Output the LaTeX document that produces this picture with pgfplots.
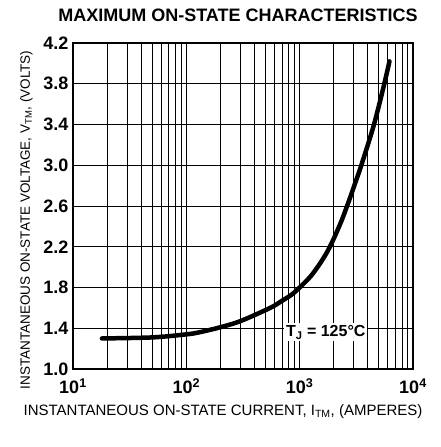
\documentclass[border=0pt]{standalone}
\usepackage{pgfplots}
\pgfplotsset{compat=1.18}
\usepackage{fontspec}
\setmainfont{Liberation Sans}
\begin{document}
\begin{tikzpicture}[x=1pt,y=1pt]
\path[use as bounding box] (-73,-78) rectangle (367,369);
\begin{axis}[
  scale only axis,
  width=340pt, height=326pt,
  xmode=log,
  xmin=10, xmax=10000,
  ymin=1.0, ymax=4.2,
  xtick={10,100,1000,10000},
  xticklabels={10\textsuperscript{1},10\textsuperscript{2},10\textsuperscript{3},10\textsuperscript{4}},
  ytick={1.0,1.4,1.8,2.2,2.6,3.0,3.4,3.8,4.2},
  yticklabels={1.0,1.4,1.8,2.2,2.6,3.0,3.4,3.8,4.2},
  minor xtick={20,30,40,50,60,70,80,90,200,300,400,500,600,700,800,900,2000,3000,4000,5000,6000,7000,8000,9000},
  major tick length=0pt, minor tick length=0pt,
  xmajorgrids, xminorgrids, ymajorgrids,
  grid style={black, line width=1pt},
  minor grid style={black, line width=1pt},
  axis line style={black, line width=1.6pt},
  tick label style={font=\fontsize{18}{20}\selectfont\bfseries},
  xticklabel style={yshift=-6pt},
  yticklabel style={xshift=-1pt},
  title={\fontsize{18}{20}\selectfont\bfseries MAXIMUM ON-STATE CHARACTERISTICS},
  title style={yshift=12pt, xshift=-5pt},
  xlabel={\fontsize{15}{17}\selectfont INSTANTANEOUS ON-STATE CURRENT, I\textsubscript{TM}, (AMPERES)},
  ylabel={\fontsize{13.5}{15}\selectfont INSTANTANEOUS ON-STATE VOLTAGE, V\textsubscript{TM}, (VOLTS)},
  xlabel style={yshift=-4pt, xshift=-20pt},
  ylabel style={yshift=4pt, xshift=-14pt},
]
\addplot[black, line width=4.5pt, smooth, line cap=round] coordinates {
(18,1.30) (50,1.31) (100,1.34) (130,1.36) (200,1.41) (300,1.47) (550,1.60) (700,1.67)
(850,1.73) (1000,1.80) (1250,1.91) (1500,2.03) (1750,2.15) (2000,2.28) (2350,2.46)
(2700,2.64) (3100,2.83) (3500,3.00) (4500,3.39) (5500,3.77) (6200,4.02)
};
\node[fill=white, inner sep=2pt, font=\fontsize{16}{18}\selectfont\bfseries] at (axis cs:1700,1.36) {T\textsubscript{J} = 125°C};
\end{axis}
\end{tikzpicture}
\end{document}
